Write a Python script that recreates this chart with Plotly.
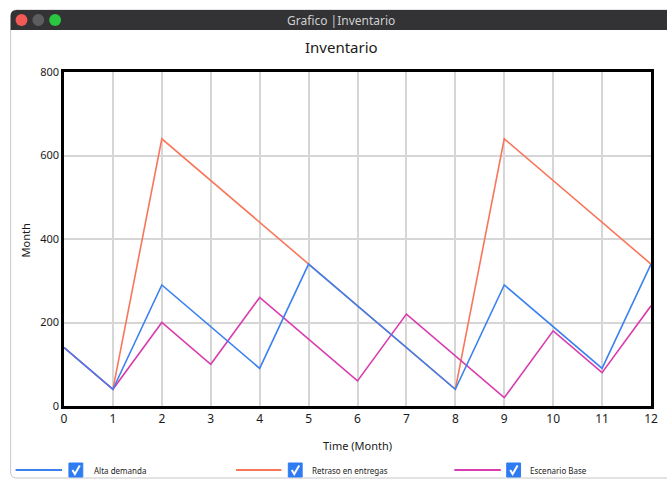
import plotly.graph_objects as go

# Inventory per month for three scenarios
months = list(range(0, 13))
alta_demanda = [140, 40, 290, 190, 90, 340, 240, 140, 40, 290, 190, 90, 340]
retraso_entregas = [140, 40, 640, 540, 440, 340, 240, 140, 40, 640, 540, 440, 340]
escenario_base = [140, 40, 200, 100, 260, 160, 60, 220, 120, 20, 180, 80, 240]

series_names = ["Alta demanda", "Retraso en entregas", "Escenario Base"]
series_colors = ["#3b82ee", "#f8765a", "#d83cae"]
y_ticks = [0, 200, 400, 600, 800]

W, H = 667, 480
ML, MR, MT, MB = 64, 9, 72, 74
PW, PH = W - ML - MR, H - MT - MB


def px(x):
    return (x - ML) / PW


def py(y):
    return (H - MB - y) / PH


FONT = "Noto Sans, Open Sans, DejaVu Sans, sans-serif"

fig = go.Figure()
traces = {}
for name, vals, col in zip(series_names, [alta_demanda, retraso_entregas, escenario_base], series_colors):
    traces[name] = go.Scatter(x=months, y=vals, mode="lines", name=name,
                              line=dict(color=col, width=1.6), showlegend=False)

# Blue drawn last so it sits on top of the orange where they coincide
for name in ["Retraso en entregas", "Escenario Base", "Alta demanda"]:
    fig.add_trace(traces[name])

shapes = []
annotations = []


def label(text, x, y, size, color="#1a1a1a", xanchor="center", angle=0):
    annotations.append(dict(text=text, xref="paper", yref="paper", x=px(x), y=py(y),
                            xanchor=xanchor, yanchor="middle", textangle=angle,
                            showarrow=False, font=dict(family=FONT, size=size, color=color)))


# Window frame with rounded corners
x0, x1 = px(10), px(700)
y_top, y_bot = py(10), py(478)
shapes.append(dict(type="path", xref="paper", yref="paper",
                   path=f"M {x1},{y_top} L {px(16)},{y_top} Q {x0},{y_top} {x0},{py(16)} "
                        f"L {x0},{py(472)} Q {x0},{y_bot} {px(16)},{y_bot} L {x1},{y_bot}",
                   line=dict(color="#c8c8c8", width=1), fillcolor="rgba(0,0,0,0)", layer="below"))
# Title bar
shapes.append(dict(type="path", xref="paper", yref="paper",
                   path=f"M {x1},{py(30)} L {x0},{py(30)} L {x0},{py(16)} Q {x0},{y_top} {px(16)},{y_top} "
                        f"L {x1},{y_top} Z",
                   line=dict(width=0), fillcolor="#333335", layer="below"))
for cx, col in [(21, "#f25a56"), (38, "#5d5d60"), (55, "#2ac840")]:
    shapes.append(dict(type="circle", xref="paper", yref="paper",
                       x0=px(cx - 6), x1=px(cx + 6), y0=py(26), y1=py(14),
                       fillcolor=col, line=dict(width=0)))
label("Grafico |Inventario", 344, 20, 12, color="#cfcfcf")

# Chart title and axis titles
label("Inventario", 345, 47, 15)
label("Time (Month)", 361, 445, 11)
label("Month", 25, 240, 11, angle=-90)

# Legend: line sample, checkbox, label
legend_items = [(15, 62, 69, 92), (238, 284, 291, 313), (459, 506, 512, 534)]
ly = 470
for (lx0, lx1, cbx, tx), name, col in zip(legend_items, series_names, series_colors):
    shapes.append(dict(type="line", xref="paper", yref="paper",
                       x0=px(lx0), x1=px(lx1), y0=py(ly), y1=py(ly),
                       line=dict(color=col, width=2)))
    shapes.append(dict(type="rect", xref="paper", yref="paper",
                       x0=px(cbx), x1=px(cbx + 14), y0=py(ly + 7), y1=py(ly - 7),
                       fillcolor="#2f7cf2", line=dict(color="#2f7cf2", width=1)))
    shapes.append(dict(type="path", xref="paper", yref="paper",
                       path=f"M {px(cbx + 3.5)},{py(ly)} L {px(cbx + 6)},{py(ly + 4)} L {px(cbx + 11)},{py(ly - 4.5)}",
                       line=dict(color="white", width=2)))
    label(name, tx, ly, 8, color="#222222", xanchor="left")

fig.update_layout(
    width=W, height=H,
    margin=dict(l=ML, r=MR, t=MT, b=MB),
    paper_bgcolor="white", plot_bgcolor="white",
    shapes=shapes, annotations=annotations,
    showlegend=False,
)
fig.update_xaxes(range=[0, 12], dtick=1, tick0=0, showgrid=True, gridcolor="#d6d6d6", gridwidth=1.5,
                 showline=True, linecolor="black", linewidth=2.5, mirror=True, zeroline=False,
                 ticks="", tickfont=dict(family=FONT, size=12, color="#1a1a1a"))
fig.update_yaxes(range=[0, 800], tickvals=y_ticks, showgrid=True, gridcolor="#d6d6d6", gridwidth=1.5,
                 showline=True, linecolor="black", linewidth=2.5, mirror=True, zeroline=False,
                 ticks="", tickfont=dict(family=FONT, size=11, color="#1a1a1a"))

fig.write_html("out.html")
